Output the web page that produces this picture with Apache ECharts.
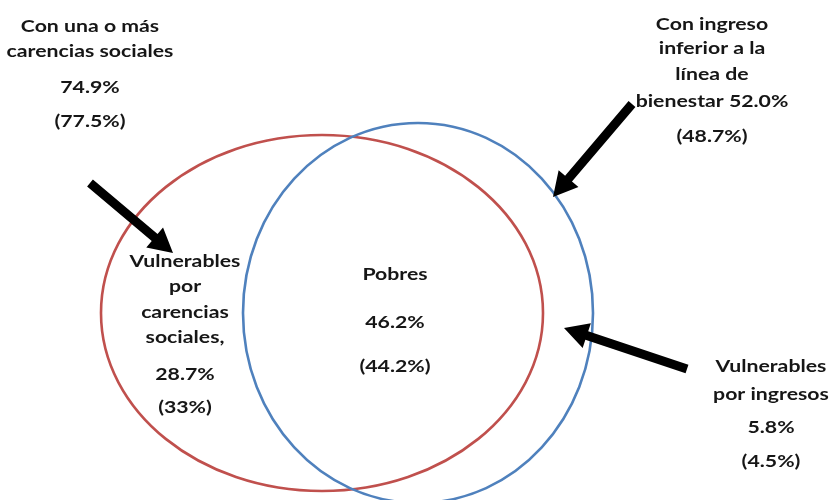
<!DOCTYPE html>
<html>
<head>
<meta charset="utf-8">
<script src="https://cdn.jsdelivr.net/npm/echarts@6/dist/echarts.min.js"></script>
<style>
  html, body { margin: 0; padding: 0; background: #ffffff; }
  #chart { width: 830px; height: 500px; }
</style>
</head>
<body>
<div id="chart"></div>
<script>
// Two sets: social deprivations and income below the welfare line
const setLabels = [['Con una o más', 'carencias sociales'], ['Con ingreso', 'inferior a la', 'línea de', 'bienestar']];
const setValues = [74.9, 52.0];
const setPrevious = [77.5, 48.7];

// Regions of the diagram
const regionLabels = [['Vulnerables', 'por', 'carencias', 'sociales,'], ['Pobres'], ['Vulnerables', 'por ingresos']];
const regionValues = [28.7, 46.2, 5.8];
const regionPrevious = [33, 44.2, 4.5];

// Layout (in the chart's 830 x 500 units, y grows downward)
const ellipseShapes = [
  { cx: 322, cy: 313, rx: 221, ry: 178, color: '#c0504d' },
  { cx: 418, cy: 313, rx: 175, ry: 190, color: '#4f81bd' }
];
const arrowPaths = [
  { from: [90, 183], to: [173, 253] },
  { from: [632, 104], to: [553, 197] },
  { from: [687, 369], to: [564, 328] }
];
// Each block: center x, then the y of every line
const setBlocks = [
  { x: 90, ys: [27, 52, 88, 122] },
  { x: 712, ys: [25, 49, 75, 102, 137] }
];
const regionBlocks = [
  { x: 185, ys: [262, 287, 313, 338, 375, 408] },
  { x: 395, ys: [275, 323, 367] },
  { x: 771, ys: [367, 395, 428, 462] }
];

const fmtPct = v => v.toFixed(1) + '%';
const fmtPrev = v => '(' + String(v) + '%)';

// Build the text lines for every block
const textItems = [];
// The first set shows its value on a line of its own; the second one runs it
// into the last label line
setLabels.forEach((lines, i) => {
  const b = setBlocks[i];
  let out;
  if (i === 0) {
    out = lines.concat([fmtPct(setValues[i]), fmtPrev(setPrevious[i])]);
  } else {
    out = lines.slice(0, -1).concat([lines[lines.length - 1] + ' ' + fmtPct(setValues[i]), fmtPrev(setPrevious[i])]);
  }
  out.forEach((t, k) => textItems.push({ text: t, x: b.x, y: b.ys[k] }));
});
regionLabels.forEach((lines, i) => {
  const b = regionBlocks[i];
  const out = lines.concat([fmtPct(regionValues[i]), fmtPrev(regionPrevious[i])]);
  out.forEach((t, k) => textItems.push({ text: t, x: b.x, y: b.ys[k] }));
});

const FONT = 'bold 17px Lato, "Open Sans", sans-serif';
const TEXT_COLOR = '#161616';
const TEXT_STRETCH = 1.25;

const chart = echarts.init(document.getElementById('chart'), null, { renderer: 'canvas' });

chart.setOption({
  backgroundColor: '#ffffff',
  animation: false,
  grid: { left: 0, right: 0, top: 0, bottom: 0 },
  xAxis: { type: 'value', min: 0, max: 830, show: false },
  yAxis: { type: 'value', min: 0, max: 500, inverse: true, show: false },
  series: [
    {
      type: 'custom',
      name: 'conjuntos',
      clip: true,
      data: ellipseShapes.map(e => [e.cx, e.cy]),
      renderItem: (params, api) => {
        const e = ellipseShapes[params.dataIndex];
        const c = api.coord([api.value(0), api.value(1)]);
        const s = api.size([e.rx, e.ry]);
        return {
          type: 'ellipse',
          shape: { cx: c[0], cy: c[1], rx: s[0], ry: s[1] },
          style: { fill: 'none', stroke: e.color, lineWidth: 2.6 }
        };
      }
    },
    {
      type: 'custom',
      name: 'flechas',
      data: arrowPaths.map(a => [a.from[0], a.from[1], a.to[0], a.to[1]]),
      renderItem: (params, api) => {
        const p0 = api.coord([api.value(0), api.value(1)]);
        const p1 = api.coord([api.value(2), api.value(3)]);
        const dx = p1[0] - p0[0], dy = p1[1] - p0[1];
        const len = Math.sqrt(dx * dx + dy * dy);
        const ux = dx / len, uy = dy / len;
        const nx = -uy, ny = ux;
        const shaftHalf = 4.5, headHalf = 13, headLen = 24;
        const bx = p1[0] - ux * headLen, by = p1[1] - uy * headLen;
        const pts = [
          [p0[0] + nx * shaftHalf, p0[1] + ny * shaftHalf],
          [bx + nx * shaftHalf, by + ny * shaftHalf],
          [bx + nx * headHalf, by + ny * headHalf],
          [p1[0], p1[1]],
          [bx - nx * headHalf, by - ny * headHalf],
          [bx - nx * shaftHalf, by - ny * shaftHalf],
          [p0[0] - nx * shaftHalf, p0[1] - ny * shaftHalf]
        ];
        return { type: 'polygon', shape: { points: pts }, style: { fill: '#000000' } };
      }
    },
    {
      type: 'custom',
      name: 'etiquetas',
      data: textItems.map(t => [t.x, t.y]),
      renderItem: (params, api) => {
        const t = textItems[params.dataIndex];
        const p = api.coord([api.value(0), api.value(1)]);
        return {
          type: 'text',
          x: p[0],
          y: p[1],
          scaleX: TEXT_STRETCH,
          style: {
            text: t.text,
            font: FONT,
            fill: TEXT_COLOR,
            align: 'center',
            verticalAlign: 'middle'
          }
        };
      }
    }
  ]
});
</script>
</body>
</html>
